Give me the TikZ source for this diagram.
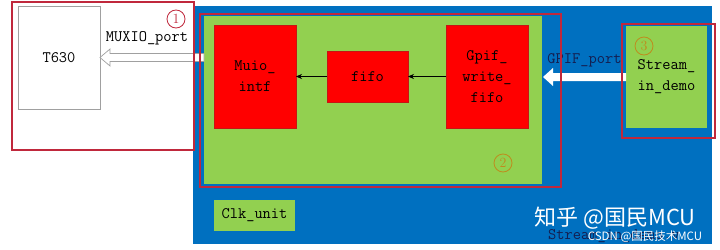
\documentclass[tikz,border=0pt]{standalone}
\usepackage{fontspec}
\newfontfamily\cjk{Noto Sans CJK SC}
\usetikzlibrary{arrows.meta}
\definecolor{bblue}{RGB}{0,112,192}
\definecolor{bgreen}{RGB}{146,208,80}
\definecolor{bred}{RGB}{255,0,0}
\definecolor{outred}{RGB}{192,40,60}
\definecolor{darkred}{RGB}{200,20,20}
\definecolor{gold}{RGB}{190,140,30}
\definecolor{navy}{RGB}{20,30,80}
\definecolor{graybd}{RGB}{160,160,160}
\begin{document}
\begin{tikzpicture}[x=1pt,y=-1pt,
 box/.style={inner sep=0pt, outer sep=0pt},
 frame/.style={box, draw=outred, line width=1.3pt},
 mono/.style={font=\ttfamily\fontsize{16}{21}\selectfont},
 blk/.style={box, mono, fill=bred, draw=darkred, line width=0.6pt, align=center},
 lbl/.style={mono, inner sep=0pt},
 num/.style={circle, draw, line width=0.8pt, minimum size=18pt, inner sep=0pt, font=\fontsize{14}{14}\selectfont},
 flow/.style={-{Stealth[length=6pt,width=5pt]}, line width=0.6pt, black}
]
\useasboundingbox (0,0) rectangle (720,249);
\fill[white] (0,0) rectangle (720,249);

% main blue area
\node[box, fill=bblue, minimum width=519pt, minimum height=238pt] (blue) at (452.5,125) {};

% left part
\node[box, draw=graybd, line width=0.8pt, mono, minimum width=82pt, minimum height=103pt] (t630) at (59,57.5) {T630};

% green area
\node[box, fill=bgreen, minimum width=338pt, minimum height=168pt] (green) at (373,100) {};

% blocks
\node[blk, minimum width=82pt, minimum height=103pt] (muio) at (255,76.5) {Muio\_\\intf};
\node[blk, minimum width=81pt, minimum height=51pt] (fifo) at (367.5,76.5) {fifo};
\node[blk, minimum width=82pt, minimum height=103pt] (gpif) at (487,76.5) {Gpif\_\\write\_\\fifo};

\draw[flow] (gpif.west) -- (fifo.east);
\draw[flow] (fifo.west) -- (muio.east);

% stream_in_demo
\node[box, fill=bgreen, mono, align=left, minimum width=81pt, minimum height=102pt] (stream) at (666.5,77) {Stream\_\\in\_demo};

% clk unit
\node[box, fill=bgreen, mono, minimum width=81pt, minimum height=31pt] (clk) at (254.5,215.5) {Clk\_unit};

% MUXIO hollow arrow
\draw[draw=graybd, fill=white, line width=0.7pt] (t630.east) -- ++(10,-8.5) -- ++(0,4.5) -- ++(94,0) -- ++(0,8) -- ++(-94,0) -- ++(0,4.5) -- cycle;
\node[lbl] (muxiolbl) at (147,38) {MUXIO\_port};

% GPIF white arrow
\coordinate (gpiftip) at (543,77);
\fill[white] (gpiftip) -- ++(10,-9) -- ++(0,5) -- ++(73,0) -- ++(0,8) -- ++(-73,0) -- ++(0,5) -- cycle;
\node[lbl, text=navy] (gpiflbl) at (584.5,60) {GPIF\_port};

% red outline frames
\node[frame, minimum width=182pt, minimum height=148pt] (f1) at (103,76) {};
\node[frame, minimum width=361pt, minimum height=173pt] (f2) at (380.5,100.5) {};
\node[frame, minimum width=93pt, minimum height=114pt] (f3) at (668.5,81) {};

% numbers
\node[num, draw=outred, text=outred] (n1) at (176,19) {1};
\node[num, draw=gold, text=gold] (n2) at (503,163) {2};
\node[num, draw=gold, text=gold] (n3) at (644,46) {3};

% watermarks
\node[lbl, text=navy] (wmv) at (614,236) {Stream\_in\_demo.v};
\node[inner sep=0pt, text=white, font=\cjk\fontsize{22}{22}\selectfont] (wm1) at (615,218) {知乎 @国民MCU};
\node[inner sep=0pt, text=white, font=\cjk\fontsize{11.5}{12}\selectfont] (wm2) at (645,237) {CSDN @国民技术MCU};
\end{tikzpicture}
\end{document}
